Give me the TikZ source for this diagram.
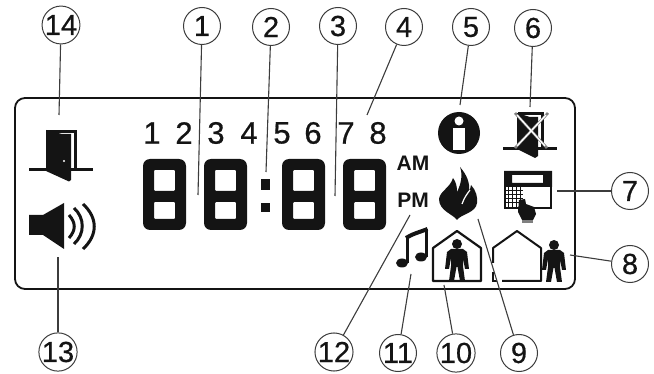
\documentclass[tikz,border=0pt]{standalone}
\usepackage{fontspec}
\setmainfont{Liberation Sans}
\newfontfamily\heavyfont[FakeBold=0.6]{Liberation Sans}
\usepackage{tikz}
\definecolor{inkdark}{RGB}{20,20,20}
\definecolor{leadgray}{RGB}{60,60,60}
\tikzset{
	callout/.style={circle,draw=leadgray,line width=1pt,minimum size=37pt,inner sep=0pt,font=\heavyfont\fontsize{29}{29}\selectfont,text=inkdark},
	leader/.style={draw=leadgray,line width=1.1pt},
	smalldigit/.style={inner sep=0pt,font=\heavyfont\fontsize{31}{31}\selectfont,text=inkdark},
	ampm/.style={inner sep=0pt,font=\fontsize{21}{21}\selectfont\bfseries,text=inkdark},
	pics/bigeight/.style={code={
		\fill[inkdark,even odd rule,rounded corners=7pt] (0,0) rectangle (43,71)
			[rounded corners=1pt] (11,11) rectangle (32,32) (11,43) rectangle (32,60);
	}},
	pics/person/.style={code={
		\fill[inkdark] (0,0) circle (5pt);
		\fill[inkdark,line join=round] (-6,5) -- (6,5) -- (10,8) -- (12,25) -- (8,25) -- (6,14) -- (6,22) -- (8,37)
			-- (3,37) -- (0.5,23) -- (-0.5,23) -- (-3,37) -- (-8,37) -- (-6,22) -- (-6,14) -- (-8,25) -- (-12,25) -- (-10,8) -- cycle;
	}}
}
\begin{document}
\begin{tikzpicture}[x=1pt,y=-1pt]
	\useasboundingbox (0,0) rectangle (654,374);
	% panel
	\draw[inkdark,line width=1.8pt,rounded corners=10pt] (15,98) rectangle (575,289);
	% row of small digits
	\foreach \d/\px in {1/152,2/184,3/216,4/249,5/282,6/313,7/346,8/378}
		\node[smalldigit] (s\d) at (\px,133) {\d};
	% clock digits and colon
	\foreach \px in {143,204,282,343}
		\pic at (\px,159) {bigeight};
	\fill[inkdark] (261,179) rectangle (270,190);
	\fill[inkdark] (261,203) rectangle (270,212);
	\node[ampm] (am) at (413,163) {AM};
	\node[ampm] (pm) at (413,200) {PM};
	% door
	\draw[inkdark,line width=3pt] (29,170) -- (93,170);
	\draw[inkdark,line width=3.5pt] (47,131.5) -- (75.5,131.5) -- (75.5,170);
	\fill[inkdark] (46,130) -- (62,134) -- (71,134) -- (71,180) -- (69,181.5) -- (46,171) -- cycle;
	\fill[white] (64,161) circle (1.2pt);
	% speaker
	\fill[inkdark] (29,215) -- (43,215) -- (64,203) -- (64,249) -- (43,235) -- (29,235) -- cycle;
	\draw[inkdark,line width=3pt] (69,215) .. controls (76,223) and (76,230) .. (69,238);
	\draw[inkdark,line width=3pt] (74,208) .. controls (85,218) and (85,234) .. (74,244);
	\draw[inkdark,line width=3pt] (83,204) .. controls (98,218) and (98,235) .. (83,249);
	% info
	\fill[inkdark] (459,133) circle (21pt);
	\fill[white] (459,121) circle (4.5pt);
	\fill[white] (453,128) rectangle (465,150);
	% crossed door
	\draw[inkdark,line width=3pt] (503,149) -- (557,149);
	\draw[inkdark,line width=3pt] (518,114) -- (542,114) -- (542,149);
	\fill[inkdark] (517,113) -- (530,117) -- (538,117) -- (538,156) -- (535,158) -- (517,149) -- cycle;
	\draw[black!50,line width=2.6pt] (515,113) -- (547,148) (548,113) -- (515,148);
	\draw[white,line width=1.3pt] (517,115) -- (545,146) (546,115) -- (517,146);
	% flame
	\fill[inkdark] (457,220) .. controls (453,214) and (439,211) .. (439,199)
		.. controls (440,191) and (450,188) .. (453,178)
		.. controls (456,182) and (457,186) .. (457,192)
		.. controls (461,184) and (463,175) .. (460,167)
		.. controls (467,175) and (470,183) .. (469,191)
		.. controls (470,189) and (471,187) .. (471,185)
		.. controls (476,190) and (478,198) .. (477,203)
		.. controls (476,213) and (461,214) .. (457,220) -- cycle;
	\draw[white,line width=1.2pt] (470,190) .. controls (467,194) and (464,198) .. (462,204);
	% keypad and hand
	\draw[inkdark,line width=1.8pt] (505,172) rectangle (551,208);
	\fill[inkdark,even odd rule] (504,171) rectangle (552,187) (512,175) rectangle (543,183);
	\foreach \px in {508,512,516,520}
		\draw[inkdark,line width=1pt] (\px,187) -- (\px,208);
	\foreach \py in {191,195,199,203}
		\draw[inkdark,line width=1pt] (505,\py) -- (523,\py);
	\fill[inkdark] (519,200) -- (525,199) -- (526,204) -- (534,207) -- (536,214) -- (533,220) -- (522,220) -- (518,212) -- cycle;
	\fill[black!50] (522,220) rectangle (533,223);
	% note
	\fill[inkdark] (402,263) ellipse (6pt and 4.5pt);
	\fill[inkdark] (421,257) ellipse (6pt and 4.5pt);
	\draw[inkdark,line width=3pt] (407,263) -- (407,238);
	\draw[inkdark,line width=3pt] (426,257) -- (426,229);
	\draw[inkdark,line width=4pt] (406,238) .. controls (412,234) and (420,232) .. (427.5,229);
	% houses
	\draw[inkdark,line width=2.2pt,line join=round] (433,281) -- (433,248) -- (457,231) -- (481,248) -- (481,281) -- cycle;
	\pic at (457,244) {person};
	\draw[inkdark,line width=2pt,line join=round] (502,281) -- (541,281) -- (541,248) -- (517,231) -- (493,248) -- (493,263);
	\draw[inkdark,line width=2.2pt] (493,272) -- (493,281) -- (497,281);
	\pic at (554,245) {person};
	% callouts
	\foreach \id/\px/\py/\ex/\ey in {14/61/25/59/115,1/202/26/198/195,2/271/27/266/172,3/338/26/335/196,4/404/27/367/115,5/471/27/460/105,6/533/28/530/107,7/630/191/557/191,8/630/264/570/255,9/519/353/478/219,10/456/353/444/285,11/398/353/411/274,12/334/352/410/215,13/58/352/58/257} {
		\node[callout] (c\id) at (\px,\py) {\id};
		\coordinate (e\id) at (\ex,\ey);
		\draw[leader] (c\id) -- (e\id);
	}
\end{tikzpicture}
\end{document}
